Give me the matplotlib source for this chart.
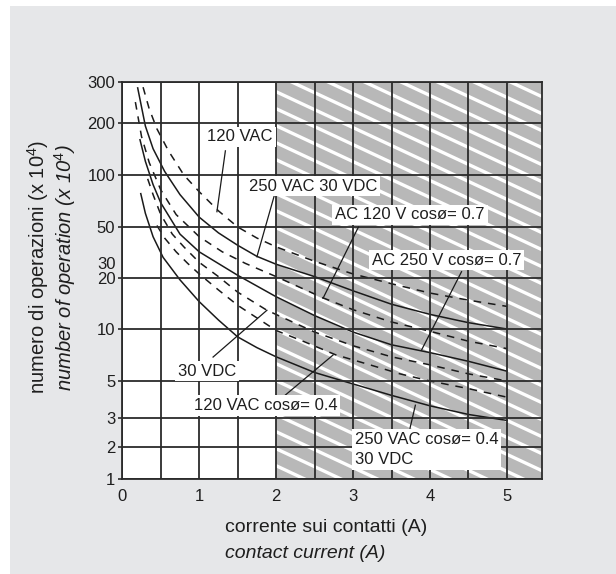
import numpy as np
import matplotlib
matplotlib.use('Agg')
import matplotlib.pyplot as plt
from matplotlib.patches import Rectangle
from matplotlib.transforms import ScaledTranslation, blended_transform_factory
from matplotlib.ticker import FixedLocator, FixedFormatter

plt.rcParams['font.family'] = ['Liberation Sans', 'DejaVu Sans']
plt.rcParams['mathtext.fontset'] = 'custom'
plt.rcParams['mathtext.rm'] = 'Liberation Sans'
plt.rcParams['mathtext.it'] = 'Liberation Sans:italic'

# ---------------- data ----------------
y_ticks = [1, 2, 3, 5, 10, 20, 50, 100, 200, 300]
# printed (non-uniform) axis: drawing position of each tick value
y_tick_pos = [0, 32, 61, 98, 150, 201, 252, 304, 356, 397]
x_ticks = [0, 1, 2, 3, 4, 5]
x_grid_minor = [0.5, 1.5, 2.5, 3.5, 4.5]
hatch_from = 2.0

x_120vac = [0.27, 0.35, 0.45, 0.6, 0.8, 1.0, 1.25, 1.5, 1.75, 2.0, 2.5, 3.0, 3.5, 4.0, 4.5, 5.0]
n_120vac = [285, 230, 185, 138, 100, 80, 62, 50, 41, 35, 27, 21.5, 18.5, 16.3, 14.8, 13.6]

x_250vac = [0.2, 0.3, 0.4, 0.55, 0.75, 1.0, 1.25, 1.5, 1.75, 2.0, 2.5, 3.0, 3.5, 4.0, 4.5, 5.0]
n_250vac = [283, 192, 142, 105, 77, 57, 45, 36, 29.5, 25.6, 20.5, 16.8, 14.0, 12.2, 10.9, 10.0]

x_ac120_07 = [0.17, 0.25, 0.35, 0.5, 0.7, 1.0, 1.3, 1.6, 2.0, 2.62, 3.0, 3.5, 4.0, 4.5, 5.0]
n_ac120_07 = [246, 167, 118, 82, 59, 42, 32, 26, 20.5, 15.2, 13.0, 11.0, 9.7, 8.5, 7.7]

x_ac250_07 = [0.23, 0.3, 0.4, 0.5, 0.75, 1.0, 1.5, 2.0, 2.5, 3.0, 3.5, 4.0, 4.5, 5.0]
n_ac250_07 = [160, 120, 88, 69, 44, 32, 21, 15.5, 12.0, 9.6, 8.1, 7.3, 6.5, 5.7]

x_30vdc = [0.33, 0.4, 0.5, 0.65, 0.8, 1.0, 1.25, 1.5, 1.88, 2.5, 3.0, 3.5, 4.0, 4.5, 5.0]
n_30vdc = [95, 77, 59, 44, 35, 26.5, 20.5, 16.5, 12.9, 9.6, 8.0, 6.9, 6.2, 5.5, 5.0]

x_120vac_04 = [0.45, 0.55, 0.7, 0.85, 1.0, 1.25, 1.5, 2.0, 2.35, 2.77, 3.22, 3.61, 4.0, 4.5, 5.0]
n_120vac_04 = [51, 41, 32, 26, 21.5, 17, 13.8, 9.8, 8.5, 7.1, 6.2, 5.5, 5.0, 4.5, 4.0]

x_250vac_04 = [0.24, 0.3, 0.4, 0.53, 0.75, 1.0, 1.25, 1.5, 1.75, 2.0, 2.5, 3.0, 3.5, 4.0, 4.5, 5.0]
n_250vac_04 = [78, 60, 42, 29, 19.5, 14.5, 11.3, 9.0, 7.8, 6.9, 5.6, 4.8, 4.1, 3.55, 3.15, 2.9]

curves = [
    (x_120vac, n_120vac, 'dash'),
    (x_250vac, n_250vac, 'solid'),
    (x_ac120_07, n_ac120_07, 'dash'),
    (x_ac250_07, n_ac250_07, 'solid'),
    (x_30vdc, n_30vdc, 'dash'),
    (x_120vac_04, n_120vac_04, 'dash'),
    (x_250vac_04, n_250vac_04, 'solid'),
]

# labels: text, text position (x, y), pointer start, pointer end, horizontal alignment
labels = [
    ('120 VAC', (1.53, 166), (1.34, 138), (1.23, 61.3), 'center'),
    ('250 VAC 30 VDC', (2.48, 86.3), (1.99, 80), (1.75, 29.3), 'center'),
    ('AC 120 V cosø= 0.7', (3.74, 58.7), (3.07, 50), (2.61, 15.2), 'center'),
    ('AC 250 V cosø= 0.7', (4.22, 27.6), (4.41, 22.4), (3.89, 7.55), 'center'),
    ('30 VDC', (1.10, 5.71), (1.18, 6.88), (1.88, 12.9), 'center'),
    ('120 VAC cosø= 0.4', (1.86, 3.58), (2.12, 4.12), (2.74, 7.07), 'center'),
    ('250 VAC cosø= 0.4\n30 VDC', (3.02, 1.9), (3.74, 2.6), (3.81, 3.58), 'left'),
]

# ---------------- figure ----------------
W, H = 616, 574
fig = plt.figure(figsize=(W / 100, H / 100), dpi=100, facecolor='white')
fig.add_artist(Rectangle((10 / W, 0), 1, (H - 6) / H, transform=fig.transFigure,
                         facecolor='#e6e7e9', edgecolor='none', zorder=-10))

ax_l, ax_r, ax_t, ax_b = 122.3, 542.3, 82, 479
ax = fig.add_axes([ax_l / W, 1 - ax_b / H, (ax_r - ax_l) / W, (ax_b - ax_t) / H])
ax.set_facecolor('white')

lk = np.log10(np.array(y_ticks, float))
pk = np.array(y_tick_pos, float)
lk_ext = np.concatenate([[-3.0], lk, [4.0]])
pk_ext = np.concatenate([[pk[0] - (lk[0] + 3) * (pk[1] - pk[0]) / (lk[1] - lk[0])], pk,
                         [pk[-1] + (4 - lk[-1]) * (pk[-1] - pk[-2]) / (lk[-1] - lk[-2])]])


def fwd(v):
    v = np.clip(np.asarray(v, float), 1e-3, None)
    return np.interp(np.log10(v), lk_ext, pk_ext)


def inv(p):
    return 10 ** np.interp(np.asarray(p, float), pk_ext, lk_ext)


ax.set_yscale('function', functions=(fwd, inv))
ax.set_xlim(0, 5.46)
ax.set_ylim(1, 300)

gc = '#2b2b2b'
tc = '#1e1e1e'
ax.yaxis.set_major_locator(FixedLocator(y_ticks))
ax.yaxis.set_major_formatter(FixedFormatter([str(v) for v in y_ticks]))
ax.yaxis.set_minor_locator(FixedLocator([30]))
ax.yaxis.set_minor_formatter(FixedFormatter(['30']))
ax.set_xticks(x_ticks)
ax.set_xticklabels([str(v) for v in x_ticks])
ax.set_xticks(x_grid_minor, minor=True)

ax.grid(True, which='major', axis='y', color=gc, lw=1.3, zorder=1)
ax.grid(True, which='both', axis='x', color=gc, lw=1.3, zorder=1)
ax.set_axisbelow(False)
for g in ax.get_xgridlines() + ax.get_ygridlines():
    g.set_zorder(1)

ax.tick_params(axis='y', which='major', length=3, width=1.2, color=gc, pad=2,
               labelsize=12, labelcolor=tc)
ax.tick_params(axis='y', which='minor', length=0, pad=5, labelsize=12, labelcolor=tc)
ax.tick_params(axis='x', which='both', length=0, pad=7, labelsize=12, labelcolor=tc)
for s in ax.spines.values():
    s.set_color(gc)
    s.set_linewidth(1.3)
    s.set_zorder(6)

off = ScaledTranslation(0, -8 / 100, fig.dpi_scale_trans)
for t in ax.yaxis.get_minor_ticks():
    t.label1.set_transform(t.label1.get_transform() + off)

# hatched region
bt = blended_transform_factory(ax.transData, ax.transAxes)
hatch = Rectangle((hatch_from, 0), ax.get_xlim()[1] - hatch_from, 1, transform=bt,
                  facecolor='#b8b8b8', edgecolor='none', zorder=0.5)
ax.add_patch(hatch)
aw, ah = ax_r - ax_l, ax_b - ax_t
slope = np.tan(np.radians(25))
for c in np.arange(0, ah + slope * aw + 20, 17.0):
    ln, = ax.plot([0, 1], [c / ah, (c - slope * aw) / ah], transform=ax.transAxes,
                  color='white', lw=2.4, zorder=0.6, solid_capstyle='butt')
    ln.set_clip_path(hatch)

# curves
for xs, ns, kind in curves:
    ls = '-' if kind == 'solid' else (0, (5, 4.5))
    ax.plot(xs, ns, color='#1a1a1a', lw=1.1, ls=ls, zorder=2, dash_capstyle='butt')

# labels with pointers
for txt, pos, p0, p1, ha in labels:
    ax.plot([p0[0], p1[0]], [p0[1], p1[1]], color='#1a1a1a', lw=0.9, zorder=3)
    ax.text(pos[0], pos[1], txt, ha=ha, va='center', fontsize=12, color=tc,
            linespacing=1.4, zorder=5,
            bbox=dict(facecolor='white', edgecolor='none', pad=2))

# axis titles
fig.text(38 / W, 1 - 267 / H, 'numero di operazioni (x 10$^{4}$)', rotation=90,
         ha='center', va='center', fontsize=14.5, color=tc)
fig.text(65 / W, 1 - 268 / H, 'number of operation (x 10$^{\\mathit{4}}$)', rotation=90,
         ha='center', va='center', fontsize=14.5, color=tc, style='italic')
fig.text(225 / W, 1 - 527 / H, 'corrente sui contatti (A)', ha='left', va='center',
         fontsize=14, color=tc)
fig.text(225 / W, 1 - 553 / H, 'contact current (A)', ha='left', va='center',
         fontsize=14, color=tc, style='italic')

fig.savefig('out.png', dpi=100)
